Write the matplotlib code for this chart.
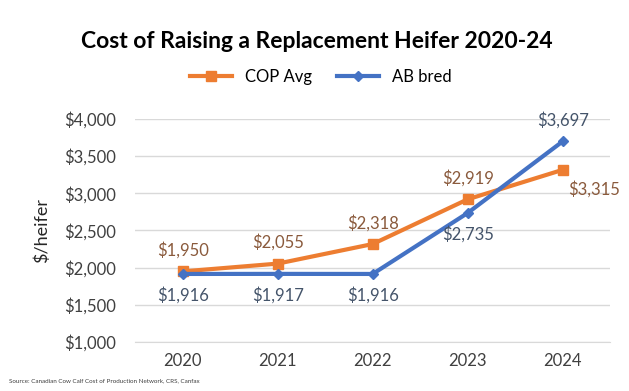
import matplotlib.pyplot as plt

plt.rcParams['font.family'] = ['Lato', 'DejaVu Sans']

years = ['2020', '2021', '2022', '2023', '2024']
cop_avg = [1950, 2055, 2318, 2919, 3315]
ab_bred = [1916, 1917, 1916, 2735, 3697]

cop_pos = ['above', 'above', 'above', 'above', 'right']
ab_pos = ['below', 'below', 'below', 'below', 'above']

orange = '#ED7D31'
blue = '#4472C4'

fig = plt.figure(figsize=(6.29, 3.91), dpi=100)
ax = fig.add_axes([0.215, 0.125, 0.755, 0.571])

x = list(range(len(years)))
ax.plot(x, cop_avg, color=orange, lw=3, marker='s', ms=7, label='COP Avg', zorder=3)
ax.plot(x, ab_bred, color=blue, lw=3, marker='D', ms=5.5, label='AB bred', zorder=3)

def put_labels(vals, pos, col):
    for i, v in enumerate(vals):
        txt = '${:,}'.format(v)
        if pos[i] == 'above':
            ax.annotate(txt, (i, v), xytext=(0, 9), textcoords='offset points',
                        ha='center', va='bottom', fontsize=12, color=col)
        elif pos[i] == 'below':
            ax.annotate(txt, (i, v), xytext=(0, -9), textcoords='offset points',
                        ha='center', va='top', fontsize=12, color=col)
        else:
            ax.annotate(txt, (i, v), xytext=(4, -8), textcoords='offset points',
                        ha='left', va='top', fontsize=12, color=col)

put_labels(cop_avg, cop_pos, '#8A5A3C')
put_labels(ab_bred, ab_pos, '#44546A')

ax.set_xlim(-0.5, 4.5)
ax.set_ylim(1000, 4000)
ax.set_yticks(range(1000, 4001, 500))
ax.set_yticklabels(['${:,}'.format(t) for t in range(1000, 4001, 500)])
ax.set_xticks(x)
ax.set_xticklabels(years)
ax.tick_params(length=0, labelsize=12, colors='#404040', pad=8)
ax.tick_params(axis='y', pad=14)
ax.grid(axis='y', color='#D9D9D9', lw=1)
ax.set_axisbelow(True)
for s in ax.spines.values():
    s.set_visible(False)
ax.spines['bottom'].set_visible(True)
ax.spines['bottom'].set_color('#D9D9D9')

fig.text(0.067, 0.41, '$/heifer', rotation=90, fontsize=13, color='#262626',
         ha='center', va='center')
fig.text(0.503, 0.893, 'Cost of Raising a Replacement Heifer 2020-24', fontsize=16.5,
         fontweight='bold', ha='center', va='center')
fig.legend(loc='center', bbox_to_anchor=(0.51, 0.803), ncol=2, frameon=False,
           fontsize=12, handlelength=2.5, columnspacing=1.5)
fig.text(0.015, 0.027, 'Source: Canadian Cow Calf Cost of Production Network, CRS, Canfax',
         fontsize=4.5, color='#404040', ha='left', va='center')

fig.savefig('out.png', dpi=100)
